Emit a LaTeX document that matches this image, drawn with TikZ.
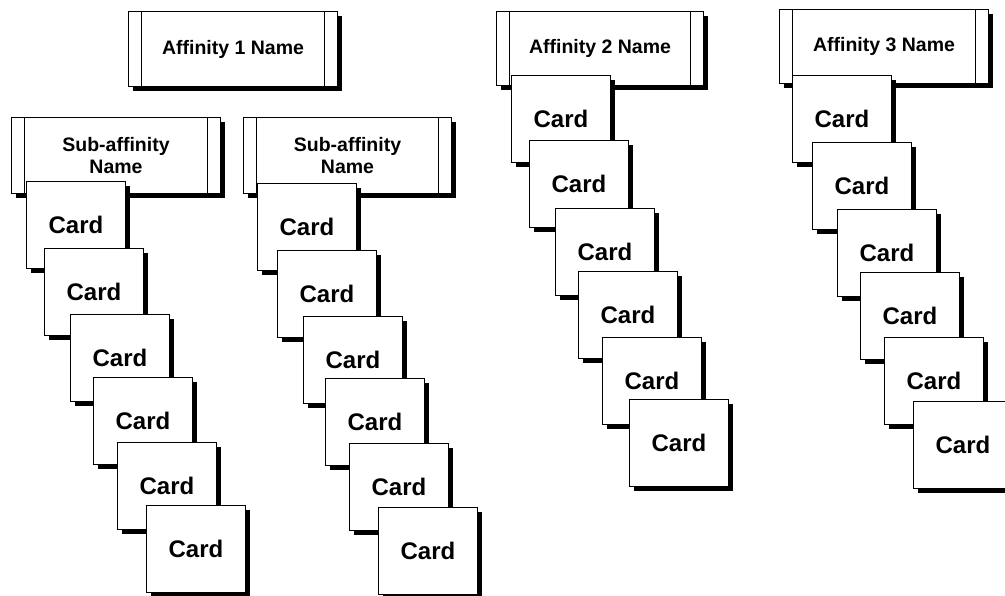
\documentclass[tikz,border=0pt]{standalone}
\usepackage{fontspec}
\setmainfont{Liberation Sans}
\usetikzlibrary{shadows}
\tikzset{
  boxshadow/.style={general shadow={fill=black, shadow xshift=4.5pt, shadow yshift=-4pt}},
  cardbox/.style={draw=black, line width=1pt, fill=white, rectangle, inner sep=0pt,
    minimum width=99pt, minimum height=87pt, anchor=north west, boxshadow,
    font=\fontsize{24}{28}\selectfont\bfseries},
  headbox/.style={draw=black, line width=1pt, fill=white, rectangle, inner sep=0pt,
    minimum height=75pt, anchor=north west, boxshadow, align=center,
    font=\fontsize{19.5}{22}\selectfont\bfseries,
    path picture={
      \draw[line width=1pt] ([xshift=13pt]path picture bounding box.north west) -- ([xshift=13pt]path picture bounding box.south west);
      \draw[line width=1pt] ([xshift=-13pt]path picture bounding box.north east) -- ([xshift=-13pt]path picture bounding box.south east);
    }},
}
\newcommand{\cardat}[3]{\node[cardbox] (#1) at (#2,#3) {Card};}
\begin{document}
\begin{tikzpicture}[x=1pt,y=-1pt]
\useasboundingbox (0,0) rectangle (1005,595);
% Affinity 1
\node[headbox, minimum width=209pt] (a1) at (128,11) {Affinity 1 Name};
% Sub-affinity 1
\node[headbox, minimum width=209pt, minimum height=76pt] (s1) at (11,117) {Sub-affinity\\Name};
\cardat{c11}{26}{181}
\cardat{c12}{44}{248}
\cardat{c13}{70}{314}
\cardat{c14}{93}{377}
\cardat{c15}{117}{442}
\cardat{c16}{146}{505}
% Sub-affinity 2
\node[headbox, minimum width=208pt, minimum height=76pt] (s2) at (243,117) {Sub-affinity\\Name};
\cardat{c21}{257}{183}
\cardat{c22}{277}{250}
\cardat{c23}{303}{316}
\cardat{c24}{325}{378}
\cardat{c25}{349}{443}
\cardat{c26}{378}{507}
% Affinity 2
\node[headbox, minimum width=207pt, minimum height=74pt] (a2) at (496,11) {Affinity 2 Name};
\cardat{c31}{511}{75}
\cardat{c32}{529}{140}
\cardat{c33}{555}{208}
\cardat{c34}{578}{271}
\cardat{c35}{602}{337}
\cardat{c36}{629}{399}
% Affinity 3
\node[headbox, minimum width=209pt, minimum height=74pt] (a3) at (779,9) {Affinity 3 Name};
\cardat{c41}{792}{75}
\cardat{c42}{812}{142}
\cardat{c43}{837}{209}
\cardat{c44}{860}{272}
\cardat{c45}{884}{337}
\cardat{c46}{913}{401}
\end{tikzpicture}
\end{document}
